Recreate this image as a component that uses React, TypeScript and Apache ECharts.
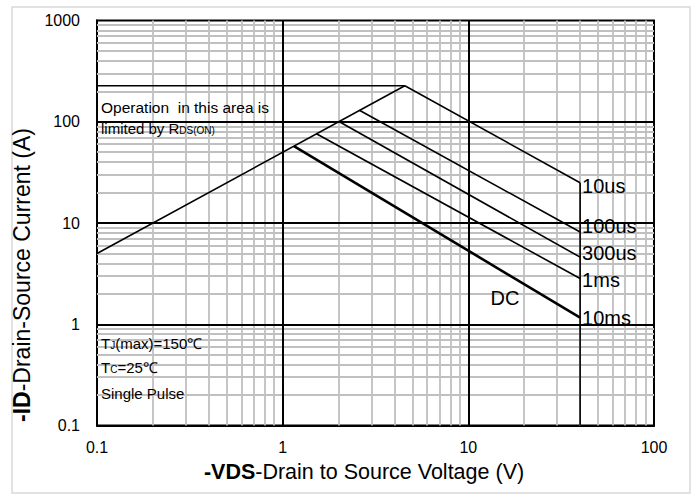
import React, { useEffect, useRef } from "react";
import * as echarts from "echarts";

// Tick labels
const xTickLabels = ["0.1", "1", "10", "100"];
const yTickLabels = ["0.1", "1", "10", "100", "1000"];

// Grid lines (decades and minor lines)
const xMajor = [1, 10];
const yMajor = [1, 10, 100];
const xMinor = [0.2, 0.3, 0.4, 0.5, 0.6, 0.7, 0.8, 0.9, 2, 3, 4, 5, 6, 7, 8, 9, 20, 30, 40, 50, 60, 70, 80, 90];
const yMinor = [0.2, 0.3, 0.4, 0.5, 0.6, 0.7, 0.8, 0.9, 2, 3, 4, 5, 6, 7, 8, 9, 20, 30, 40, 50, 60, 70, 80, 90, 200, 300, 400, 500, 600, 700, 800, 900];

// SOA boundaries [VDS (V), ID (A)]
const rdsOnLimit = [[0.1, 5], [4.55, 227]];
const currentLimit = [[0.1, 227], [4.55, 227]];
const voltageLimit = [[40, 25], [40, 0.1]];

const pulseNames = ["10us", "100us", "300us", "1ms", "10ms"];
const line10us = [[4.55, 227], [40, 25]];
const line100us = [[2.59, 130], [40, 8.15]];
const line300us = [[2.01, 100.5], [40, 4.6]];
const line1ms = [[1.52, 76], [40, 2.83]];
const line10ms = [[1.15, 57.5], [40, 1.16]];
const pulseLines = [line10us, line100us, line300us, line1ms, line10ms];
const labelOffsetsY = [3, -5.5, -4, 1.5, 0];

const FONT = "'Liberation Sans', Arial, Helvetica, sans-serif";

const subRich = {
  m: { fontSize: 15, fontFamily: FONT, verticalAlign: "bottom", lineHeight: 15, fill: "#000" },
  s: { fontSize: 10, fontFamily: FONT, verticalAlign: "bottom", lineHeight: 8, fill: "#000" },
};

export default function App() {
  const ref = useRef<HTMLDivElement>(null);

  useEffect(() => {
    if (!ref.current) return;
    const chart = echarts.init(ref.current, undefined, { renderer: "svg" });

    const gridSeries = (vals: number[], axis: "xAxis" | "yAxis", color: string, width: number, z: number) => ({
      type: "line",
      data: [[0.1, 0.1]],
      symbol: "none",
      lineStyle: { opacity: 0 },
      silent: true,
      z,
      markLine: {
        silent: true,
        symbol: ["none", "none"],
        label: { show: false },
        lineStyle: { color, width, type: "solid" },
        emphasis: { disabled: true },
        data: vals.map((v) => ({ [axis]: v })),
        z,
      },
    });

    const plain = (data: number[][], width = 1.6) => ({
      type: "line",
      data,
      symbol: "none",
      silent: true,
      z: 5,
      lineStyle: { color: "#000", width },
    });

    const pulseSeries = pulseLines.map((data, i) => ({
      type: "line",
      name: pulseNames[i],
      data,
      symbol: "none",
      silent: true,
      z: 5,
      lineStyle: { color: "#000", width: i === 4 ? 2.6 : 1.6 },
      endLabel: {
        show: true,
        formatter: pulseNames[i],
        distance: 2,
        offset: [0, labelOffsetsY[i]],
        color: "#000",
        fontSize: 20,
        fontWeight: "normal",
        fontFamily: FONT,
      },
    }));

    const text = (x: number, y: number, t: string, size = 15, align = "left") => ({
      type: "text",
      x,
      y,
      style: {
        text: t,
        fill: "#000",
        fontSize: size,
        fontFamily: FONT,
        textAlign: align,
        textVerticalAlign: "middle",
      },
      z: 10,
    });

    const subText = (x: number, y: number, t: string) => ({
      type: "text",
      x,
      y,
      style: {
        text: t,
        fill: "#000",
        fontFamily: FONT,
        textAlign: "left",
        textVerticalAlign: "middle",
        rich: subRich,
      },
      z: 10,
    });

    chart.setOption({
      animation: false,
      backgroundColor: "#fff",
      grid: {
        left: 97,
        top: 20.5,
        right: 41,
        bottom: 69.5,
        show: true,
        borderColor: "#000",
        borderWidth: 2,
        backgroundColor: "#fff",
      },
      xAxis: {
        type: "log",
        logBase: 10,
        min: 0.1,
        max: 100,
        axisLine: { show: true, lineStyle: { color: "#000", width: 2 } },
        axisTick: { show: false },
        splitLine: { show: false },
        axisLabel: {
          margin: 14,
          color: "#000",
          fontSize: 16,
          fontWeight: "normal",
          fontFamily: FONT,
          formatter: (v: number) => xTickLabels[Math.round(Math.log10(v)) + 1] ?? "",
        },
      },
      yAxis: {
        type: "log",
        logBase: 10,
        min: 0.1,
        max: 1000,
        axisLine: { show: true, lineStyle: { color: "#000", width: 2 } },
        axisTick: { show: false },
        splitLine: { show: false },
        axisLabel: {
          margin: 17,
          color: "#000",
          fontSize: 16,
          fontWeight: "normal",
          fontFamily: FONT,
          formatter: (v: number) => yTickLabels[Math.round(Math.log10(v)) + 1] ?? "",
        },
      },
      series: [
        gridSeries(xMinor, "xAxis", "#c0c0c0", 1.8, 1),
        gridSeries(yMinor, "yAxis", "#c0c0c0", 1.8, 1),
        gridSeries(xMajor, "xAxis", "#000", 2, 2),
        gridSeries(yMajor, "yAxis", "#000", 2, 2),
        plain(rdsOnLimit),
        plain(currentLimit),
        plain(voltageLimit),
        ...pulseSeries,
      ],
      graphic: [
        {
          type: "rect",
          shape: { x: 12, y: 7, width: 678, height: 486 },
          style: { fill: "none", stroke: "#d9d9d9", lineWidth: 1.5 },
          silent: true,
          z: 0,
        },
        text(101, 107, "Operation  in this area is", 15.5),
        subText(101, 128, "{m|limited by R}{s|DS(ON)}"),
        subText(101, 343, "{m|T}{s|J}{m|(max)=150℃}"),
        subText(101, 367, "{m|T}{s|C}{m|=25℃}"),
        text(101, 393, "Single Pulse", 15),
        text(505, 298, "DC", 20, "center"),
        {
          type: "text",
          x: 364,
          y: 472,
          style: {
            text: "{b|-VDS}{n|-Drain to Source Voltage (V)}",
            fill: "#000",
            fontFamily: FONT,
            textAlign: "center",
            textVerticalAlign: "middle",
            rich: {
              b: { fontSize: 21.5, fontWeight: "bold", fontFamily: FONT, fill: "#000" },
              n: { fontSize: 21.5, fontFamily: FONT, fill: "#000" },
            },
          },
          z: 10,
        },
        {
          type: "text",
          x: 22,
          y: 275,
          rotation: Math.PI / 2,
          style: {
            text: "{b|-ID}{n|-Drain-Source Current (A)}",
            fill: "#000",
            fontFamily: FONT,
            textAlign: "center",
            textVerticalAlign: "middle",
            rich: {
              b: { fontSize: 23, fontWeight: "bold", fontFamily: FONT, fill: "#000" },
              n: { fontSize: 23, fontFamily: FONT, fill: "#000" },
            },
          },
          z: 10,
        },
      ],
    });

    return () => chart.dispose();
  }, []);

  return (
    <div
      ref={ref}
      style={{ position: "fixed", left: 0, top: 0, width: 695, height: 495, background: "#fff" }}
    />
  );
}
